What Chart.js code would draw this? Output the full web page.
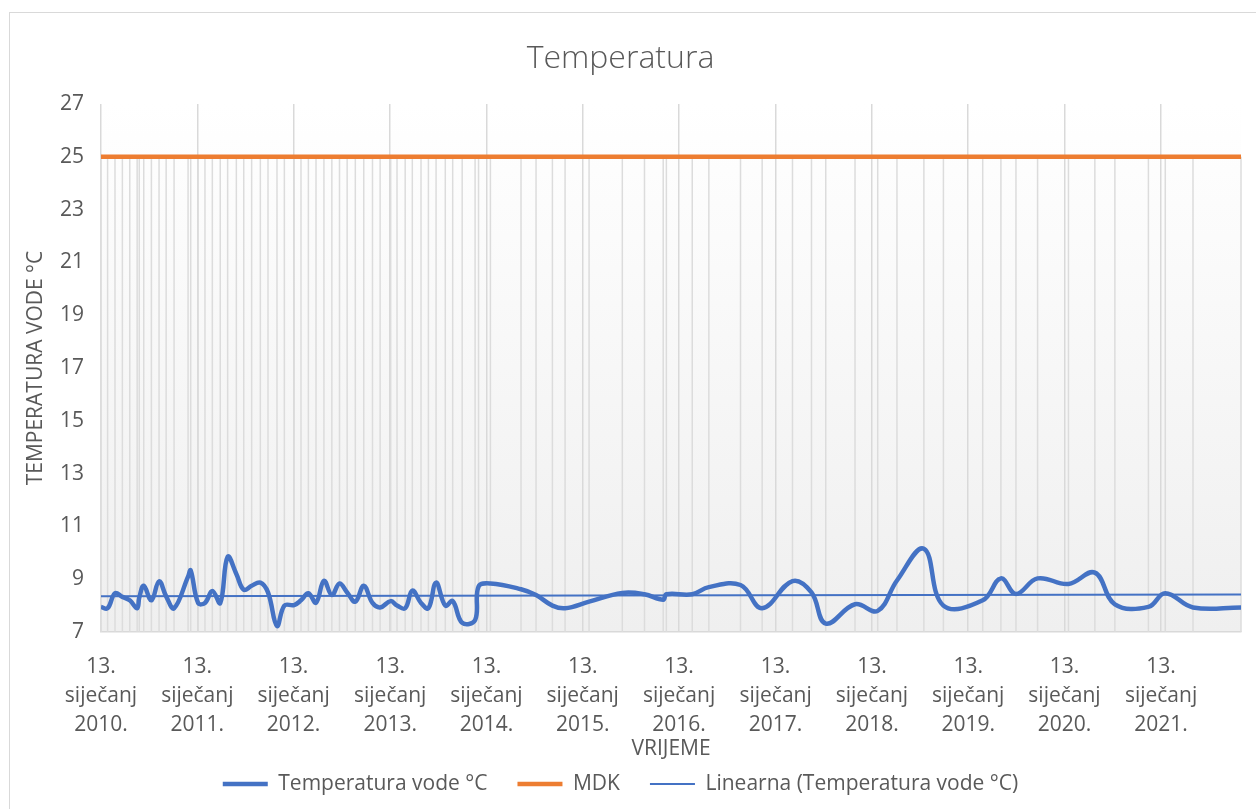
<!DOCTYPE html>
<html>
<head>
<meta charset="utf-8">
<script src="https://cdn.jsdelivr.net/npm/chart.js@4.4.1/dist/chart.umd.min.js"></script>
<style>
  html, body { margin: 0; padding: 0; background: #fff; overflow: hidden; }
  #okvir { position: absolute; left: 9px; top: 12px; width: 1260px; height: 810px; border: 1px solid #d9d9d9; }
  #graf { position: absolute; left: 0; top: 0; }
</style>
</head>
<body>
<div id="okvir"></div>
<canvas id="graf" width="1256" height="809"></canvas>
<script>
// Datumi mjerenja
const datumi = [
  '2010-01-13','2010-02-07','2010-03-07','2010-04-04','2010-05-02','2010-05-30','2010-06-07','2010-06-24','2010-07-23','2010-08-21','2010-09-17','2010-10-17','2010-12-09','2010-12-19',
  '2011-01-16','2011-02-11','2011-03-11','2011-04-10','2011-05-08','2011-06-10','2011-07-08','2011-08-07','2011-09-09','2011-10-08','2011-11-11','2011-12-09',
  '2012-01-15','2012-02-10','2012-03-09','2012-04-07','2012-05-07','2012-06-06','2012-07-05','2012-08-03','2012-09-03','2012-10-05','2012-11-07','2012-12-06',
  '2013-01-15','2013-02-08','2013-03-11','2013-04-07','2013-05-10','2013-06-07','2013-07-06','2013-08-10','2013-09-07','2013-10-13','2013-12-01','2013-12-14',
  '2014-01-28','2014-05-24','2014-07-20','2014-09-20','2014-11-07',
  '2015-02-06','2015-06-12','2015-09-04','2015-11-14','2015-11-26',
  '2016-03-03','2016-05-05','2016-09-02','2016-11-23',
  '2017-03-18','2017-05-29','2017-07-22','2017-11-10',
  '2018-02-04','2018-04-18','2018-07-29','2018-10-11',
  '2019-03-09','2019-05-17','2019-07-13','2019-10-03',
  '2020-01-28','2020-05-07','2020-07-22','2020-11-26',
  '2021-01-29','2021-05-14','2021-11-12'
];

// Temperatura vode °C
const temperaturaVode = [
  7.95, 7.9, 8.47, 8.33, 8.2, 7.9, 8.3, 8.75, 8.2, 8.92, 8.35, 7.9, 9.1, 9.33,
  8.1, 8.1, 8.55, 8.1, 9.85, 9.2, 8.6, 8.75, 8.87, 8.5, 7.23, 8.0,
  8.02, 8.2, 8.47, 8.11, 8.94, 8.4, 8.84, 8.5, 8.15, 8.75, 8.1, 7.93,
  8.17, 8.0, 7.9, 8.57, 8.1, 7.9, 8.87, 8.0, 8.17, 7.35, 7.45, 8.72,
  8.84, 8.62, 8.4, 8.0, 7.9,
  8.15, 8.48, 8.43, 8.22, 8.43,
  8.43, 8.7, 8.78, 7.9,
  8.93, 8.5, 7.32, 8.05,
  7.8, 8.95, 10.15, 8.0,
  8.2, 9.03, 8.44, 9.03,
  8.82, 9.25, 8.05, 7.95,
  8.47, 7.93, 7.93
];

// Maksimalno dopuštena koncentracija
const mdk = 25;

// Oznake na osi x
const oznakaDan = '13.';
const oznakaMjesec = 'siječanj';
const godine = [2010, 2011, 2012, 2013, 2014, 2015, 2016, 2017, 2018, 2019, 2020, 2021];
const osY = { min: 7, max: 27, korak: 2 };

const vrijeme = datumi.map(d => Date.parse(d));
const dan = 86400000;

// Linearni trend (najmanji kvadrati)
const n = vrijeme.length;
const xs = vrijeme.map(t => (t - vrijeme[0]) / dan);
const sx = xs.reduce((a, b) => a + b, 0);
const sy = temperaturaVode.reduce((a, b) => a + b, 0);
const sxy = xs.reduce((a, x, i) => a + x * temperaturaVode[i], 0);
const sxx = xs.reduce((a, x) => a + x * x, 0);
const nagib = (n * sxy - sx * sy) / (n * sxx - sx * sx);
const odsjecak = (sy - nagib * sx) / n;

const font = 'Open Sans';
const siva = '#595959';

// Pozadina s prijelazom
const pozadina = {
  id: 'pozadina',
  beforeDraw(chart) {
    const { ctx, chartArea: a } = chart;
    const g = ctx.createLinearGradient(0, a.top, 0, a.bottom);
    g.addColorStop(0, '#ffffff');
    g.addColorStop(1, '#efefef');
    ctx.save();
    ctx.fillStyle = g;
    ctx.fillRect(a.left, a.top, a.right - a.left, a.bottom - a.top);
    ctx.restore();
  }
};

// Okomite linije od MDK do osi
const okomice = {
  id: 'okomice',
  beforeDatasetsDraw(chart) {
    const { ctx, chartArea: a, scales } = chart;
    const yTop = scales.y.getPixelForValue(mdk);
    ctx.save();
    ctx.strokeStyle = '#dcdcdc';
    ctx.lineWidth = 1.5;
    vrijeme.forEach(t => {
      const x = scales.x.getPixelForValue(t);
      ctx.beginPath();
      ctx.moveTo(x, yTop);
      ctx.lineTo(x, a.bottom);
      ctx.stroke();
    });
    ctx.restore();
  }
};

const ctx = document.getElementById('graf').getContext('2d');
const graf = new Chart(ctx, {
  type: 'line',
  data: {
    datasets: [{
      label: 'Temperatura vode °C',
      data: vrijeme.map((t, i) => ({ x: t, y: temperaturaVode[i] })),
      borderColor: '#4472c4',
      borderWidth: 4.5,
      tension: 0.4,
      pointRadius: 0,
      pointStyle: 'line',
      order: 1
    }, {
      label: 'MDK',
      data: vrijeme.map(t => ({ x: t, y: mdk })),
      borderColor: '#ed7d31',
      borderWidth: 4.5,
      pointRadius: 0,
      pointStyle: 'line',
      order: 2
    }, {
      label: 'Linearna (Temperatura vode °C)',
      data: [vrijeme[0], vrijeme[n - 1]].map(t => ({ x: t, y: odsjecak + nagib * (t - vrijeme[0]) / dan })),
      borderColor: '#4472c4',
      borderWidth: 2,
      pointRadius: 0,
      pointStyle: 'line',
      order: 0
    }]
  },
  options: {
    responsive: false,
    animation: false,
    layout: { padding: { left: 0, right: 15, top: 0, bottom: 4.5 } },
    scales: {
      x: {
        type: 'linear',
        min: vrijeme[0],
        max: vrijeme[n - 1],
        afterBuildTicks: s => { s.ticks = godine.map(g => ({ value: Date.UTC(g, 0, 13) })); },
        afterFit: s => { s.height = 743.5 - 632; },
        ticks: {
          autoSkip: false,
          maxRotation: 0,
          padding: 20,
          color: siva,
          font: { family: font, size: 21, lineHeight: 1.4 },
          callback: v => [oznakaDan, oznakaMjesec, new Date(v).getUTCFullYear() + '.']
        },
        grid: { color: '#d9d9d9', lineWidth: 1.5, drawTicks: false },
        border: { display: true, color: '#d9d9d9', width: 1.5 },
        title: {
          display: true,
          text: 'VRIJEME',
          color: siva,
          font: { family: font, size: 21 },
          padding: { top: 0, bottom: -18 }
        }
      },
      y: {
        min: osY.min,
        max: osY.max,
        afterFit: s => { s.width = 101; },
        ticks: {
          stepSize: osY.korak,
          padding: 17,
          color: siva,
          font: { family: font, size: 21 }
        },
        grid: { display: false, drawTicks: false },
        border: { display: false },
        title: {
          display: true,
          text: 'TEMPERATURA VODE °C',
          color: siva,
          font: { family: font, size: 21 },
          padding: { top: 23, bottom: 0 }
        }
      }
    },
    plugins: {
      title: {
        display: true,
        text: 'Temperatura',
        color: siva,
        font: { family: font, size: 32, weight: 300 },
        padding: { top: 40, bottom: 25.6 }
      },
      legend: {
        position: 'bottom',
        labels: {
          usePointStyle: true,
          pointStyleWidth: 45,
          padding: 30,
          color: siva,
          font: { family: font, size: 21 },
          sort: (a, b) => a.datasetIndex - b.datasetIndex
        }
      },
      tooltip: { enabled: false }
    }
  },
  plugins: [pozadina, okomice]
});
</script>
</body>
</html>
